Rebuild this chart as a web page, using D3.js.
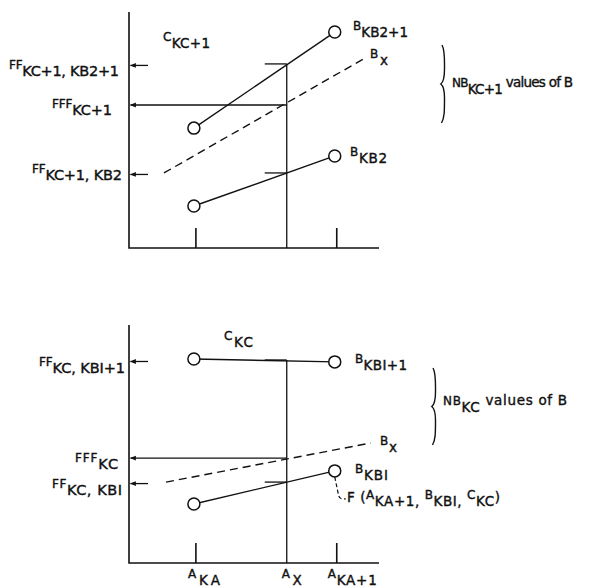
<!DOCTYPE html>
<html><head><meta charset="utf-8">
<script src="https://cdn.jsdelivr.net/npm/d3@7"></script>
<style>html,body{margin:0;padding:0;background:#fff;} text{white-space:pre;}</style>
</head><body>
<svg id="c" width="599" height="588"></svg>
<script>
// ---- data ----
const aTicks = [1, 1.645, 2];                 // A_KA, A_X, A_KA+1
const aTickLabels = [["A","KA"],["A","X"],["A","KA+1"]];
const aDomain = [0.525, 2.3];
const bDomain = [0, 10];

// upper panel (C_KC+1)
const topUpperB = [5.08, 9.15];   // B_KB2+1 at A_KA, A_KA+1
const topLowerB = [1.78, 3.90];   // B_KB2  at A_KA, A_KA+1
const topBx = [[0.773, 3.18], [2.213, 8.09]];
const topFF = [7.80, 3.18];       // FF values at A_X
const topFFF = 6.06;

// lower panel (C_KC)
const botUpperB = [8.57, 8.45];   // B_KBI+1
const botLowerB = [2.48, 3.87];   // B_KBI
const botBx = [[0.788, 3.40], [2.241, 5.04]];
const botFF = [8.53, 3.40];
const botFFF = 4.41;

const FONT = "'DejaVu Sans', 'Liberation Sans', Arial, sans-serif";
const INK = "#111";

const svg = d3.select("#c");
svg.append("rect").attr("width",599).attr("height",588).attr("fill","#fff");
const defs = svg.append("defs");
defs.append("marker").attr("id","arr").attr("viewBox","0 0 10 10")
  .attr("refX",9).attr("refY",5).attr("markerWidth",7).attr("markerHeight",6)
  .attr("markerUnits","userSpaceOnUse").attr("orient","auto")
  .append("path").attr("d","M0,1 L10,5 L0,9 Z").attr("fill",INK);

const x = d3.scaleLinear().domain(aDomain).range([129, 379]);

function label(g, lx, ly, parts, w, sz) {
  sz = sz || {m: 12, s: 14.5};
  const t = g.append("text").attr("x", lx).attr("y", ly)
    .attr("font-family", FONT).attr("fill", INK)
    .attr("stroke", INK).attr("stroke-width", 0.4);
  parts.forEach(([s, k]) => {
    const cfg = {m:[-7, sz.m], s:[0, sz.s], f:[-4.5, sz.s], v:[-7.5, 13.5]}[k];
    t.append("tspan").attr("y", ly + cfg[0]).style("font-size", cfg[1] + "px").text(s);
  });
  if (w) t.attr("textLength", w).attr("lengthAdjust","spacing");
  return t;
}
const R = {m: 12, s: 13.5};

function panel(y0, y1, upper, lower, bx, ff, fff) {
  const y = d3.scaleLinear().domain(bDomain).range([y1, y0]);
  const g = svg.append("g");
  const xa = x(aTicks[1]);
  // axes
  g.append("path").attr("d", d3.line()([[x(aDomain[0]), y(bDomain[1])],[x(aDomain[0]), y(0)],[x(aDomain[1]), y(0)]]))
    .attr("fill","none").attr("stroke",INK).attr("stroke-width",1.6);
  // x ticks
  [aTicks[0], aTicks[2]].forEach(t => g.append("line")
    .attr("x1", x(t)).attr("x2", x(t)).attr("y1", y(0)).attr("y2", y(0)-20)
    .attr("stroke",INK).attr("stroke-width",1.6));
  // vertical A_X line
  g.append("line").attr("x1",xa).attr("x2",xa).attr("y1",y(ff[0])).attr("y2",y(0))
    .attr("stroke",INK).attr("stroke-width",1.3);
  // short ticks at FF values
  ff.forEach(v => g.append("line").attr("x1",xa-22).attr("x2",xa).attr("y1",y(v)).attr("y2",y(v))
    .attr("stroke",INK).attr("stroke-width",1.3));
  // FF arrows to axis
  ff.forEach(v => g.append("line").attr("x1",x(aDomain[0])+19).attr("x2",x(aDomain[0])+1.5)
    .attr("y1",y(v)+1.5).attr("y2",y(v)+1.5)
    .attr("stroke",INK).attr("stroke-width",1.3).attr("marker-end","url(#arr)"));
  // FFF arrow
  g.append("line").attr("x1",xa).attr("x2",x(aDomain[0])+1.5).attr("y1",y(fff)).attr("y2",y(fff))
    .attr("stroke",INK).attr("stroke-width",1.3).attr("marker-end","url(#arr)");
  // dashed B_x
  g.append("path").attr("d", d3.line().x(d=>x(d[0])).y(d=>y(d[1]))(bx))
    .attr("fill","none").attr("stroke",INK).attr("stroke-width",1.4).attr("stroke-dasharray","8,5");
  // solid B lines with circles
  [upper, lower].forEach(vals => {
    const pts = [[aTicks[0], vals[0]], [aTicks[2], vals[1]]];
    g.append("path").attr("d", d3.line().x(d=>x(d[0])-2).y(d=>y(d[1]))(pts))
      .attr("fill","none").attr("stroke",INK).attr("stroke-width",1.4);
    g.selectAll(null).data(pts).enter().append("circle")
      .attr("cx", d=>x(d[0])-2).attr("cy", d=>y(d[1])).attr("r", 6)
      .attr("fill","#fff").attr("stroke",INK).attr("stroke-width",1.5);
  });
  return {g, y};
}

function brace(g, bx0, ya, yb) {
  const ym = (ya + yb) / 2;
  g.append("path").attr("d",
    `M${bx0},${ya} C${bx0+3},${ya+5} ${bx0+2.5},${ya+14} ${bx0+2.5},${ya+24} ` +
    `C${bx0+2.5},${ym-6} ${bx0+1.5},${ym-2} ${bx0-1.2},${ym} ` +
    `C${bx0+1.5},${ym+2} ${bx0+2.5},${ym+6} ${bx0+2.5},${ym+14} ` +
    `C${bx0+2.5},${yb-12} ${bx0+2.5},${yb-5} ${bx0-0.5},${yb}`)
    .attr("fill","none").attr("stroke",INK).attr("stroke-width",1.4);
}

// ---- upper panel ----
const T = panel(12, 248, topUpperB, topLowerB, topBx, topFF, topFFF);
label(T.g, 163, 48, [["C","m"],["KC+1","s"]], 47, R);
label(T.g, 9, 76, [["FF","m"],["KC+1, KB2+1","s"]], 110);
label(T.g, 52, 115, [["FFF","m"],["KC+1","s"]], 60);
label(T.g, 32, 180, [["FF","m"],["KC+1, KB2","s"]], 90);
label(T.g, 353, 37, [["B","m"],["KB2+1","s"]], 55, R);
label(T.g, 370, 65, [["B","m"],["x","s"]], 18, R);
label(T.g, 350, 163, [["B","m"],["KB2","s"]], 37, R);
label(T.g, 452, 94, [["NB","m"],["KC+1","s"],[" values of B","v"]], 121, R);
brace(T.g, 442, 45, 123);

// ---- lower panel ----
const Bp = panel(325, 563, botUpperB, botLowerB, botBx, botFF, botFFF);
label(Bp.g, 224, 347, [["C","m"],["KC","s"]], 29, R);
label(Bp.g, 39, 373, [["FF","m"],["KC, KBI+1","s"]], 86);
label(Bp.g, 75, 469, [["FFF","m"],["KC","s"]], 43);
label(Bp.g, 52, 495, [["FF","m"],["KC, KBI","s"]], 70);
label(Bp.g, 355, 370, [["B","m"],["KBI+1","s"]], 52, R);
label(Bp.g, 443, 412, [["NB","m"],["KC","s"],[" values of B","v"]], 124, R);
label(Bp.g, 380, 452, [["B","m"],["x","s"]], 17, R);
label(Bp.g, 355, 480, [["B","m"],["KBI","s"]], 33, R);
label(Bp.g, 347, 506, [["F (","f"],["A","m"],["KA+1, ","s"],["B","m"],["KBI, ","s"],["C","m"],["KC","s"],[")","f"]], 153, R);
brace(Bp.g, 433, 368, 445);
// leader from B_KBI circle to F(...) label
const lx = x(aTicks[2]) - 2, ly = Bp.y(botLowerB[1]) + 6;
Bp.g.append("path").attr("d", `M${lx},${ly} L${lx+4},${ly+19} Q${lx+5},${ly+22} ${lx+8},${ly+22} L${lx+11},${ly+22}`)
  .attr("fill","none").attr("stroke",INK).attr("stroke-width",1.2).attr("stroke-dasharray","4,2.5");

// x tick labels
const tickDx = [-8, -5, -9];
const tickW = [32, 20, 49];
aTicks.forEach((t, i) => label(Bp.g, x(t) + tickDx[i], 585,
  [[aTickLabels[i][0],"m"],[aTickLabels[i][1],"s"]], tickW[i], R));
</script>
</body></html>
